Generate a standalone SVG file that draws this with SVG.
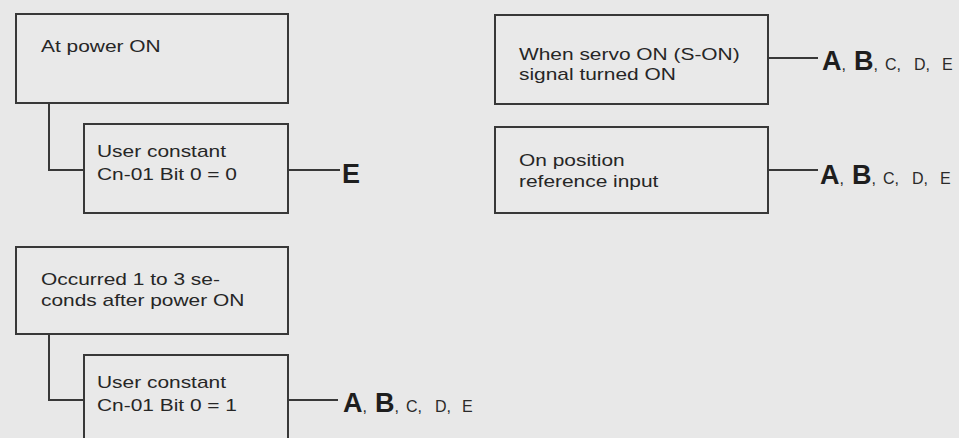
<svg xmlns="http://www.w3.org/2000/svg" width="959" height="438" viewBox="0 0 959 438">
<style>
.box{fill:#e9e9e9;stroke:#383838;stroke-width:2}
.ln{fill:none;stroke:#383838;stroke-width:2}
.t{font-family:"Liberation Sans",Arial,sans-serif;font-size:17px;fill:#262626}
.big{font-family:"Liberation Sans",Arial,sans-serif;font-size:27px;font-weight:bold;fill:#1e1e1e}
.sm{font-family:"Liberation Sans",Arial,sans-serif;font-size:16px;fill:#2a2a2a}
</style>
<rect width="959" height="438" fill="#e8e8e8"/>
<g id="connectors">
<path class="ln" d="M49,103 V170 H84"/>
<path class="ln" d="M288,170 H340"/>
<path class="ln" d="M49,334 V400 H84"/>
<path class="ln" d="M288,400 H338"/>
<path class="ln" d="M768,58 H818"/>
<path class="ln" d="M768,170 H818"/>
</g>
<g id="n1"><rect class="box" x="16" y="14" width="272" height="89"/><text class="t" transform="translate(41,52) scale(1.23,1)">At power ON</text></g>
<g id="n2"><rect class="box" x="84" y="124" width="204" height="89"/><text class="t" transform="translate(97,157) scale(1.23,1)">User constant</text><text class="t" transform="translate(97,180) scale(1.23,1)">Cn-01 Bit 0 = 0</text></g>
<g id="n3"><rect class="box" x="16" y="247" width="272" height="87"/><text class="t" transform="translate(41,285) scale(1.23,1)">Occurred 1 to 3 se-</text><text class="t" transform="translate(41,306) scale(1.23,1)">conds after power ON</text></g>
<g id="n4"><rect class="box" x="84" y="355" width="204" height="95"/><text class="t" transform="translate(97,388) scale(1.23,1)">User constant</text><text class="t" transform="translate(97,411) scale(1.23,1)">Cn-01 Bit 0 = 1</text></g>
<g id="n5"><rect class="box" x="495" y="15" width="273" height="89"/><text class="t" transform="translate(519,60) scale(1.23,1)">When servo ON (S-ON)</text><text class="t" transform="translate(519,80) scale(1.23,1)">signal turned ON</text></g>
<g id="n6"><rect class="box" x="495" y="127" width="273" height="86"/><text class="t" transform="translate(519,166) scale(1.23,1)">On position</text><text class="t" transform="translate(519,187) scale(1.23,1)">reference input</text></g>
<g id="l1"><text class="big" x="342" y="183">E</text></g>
<g id="l2"><text x="343" y="412"><tspan class="big">A</tspan><tspan class="sm">,</tspan><tspan class="big" x="375">B</tspan><tspan class="sm">, </tspan><tspan class="sm" x="406">C, </tspan><tspan class="sm" x="435">D, </tspan><tspan class="sm" x="462">E</tspan></text></g>
<g id="l3"><text x="822" y="70"><tspan class="big">A</tspan><tspan class="sm">,</tspan><tspan class="big" x="854">B</tspan><tspan class="sm">, </tspan><tspan class="sm" x="885">C, </tspan><tspan class="sm" x="914">D, </tspan><tspan class="sm" x="942">E</tspan></text></g>
<g id="l4"><text x="820" y="184"><tspan class="big">A</tspan><tspan class="sm">,</tspan><tspan class="big" x="852">B</tspan><tspan class="sm">, </tspan><tspan class="sm" x="883">C, </tspan><tspan class="sm" x="912">D, </tspan><tspan class="sm" x="940">E</tspan></text></g>
</svg>
